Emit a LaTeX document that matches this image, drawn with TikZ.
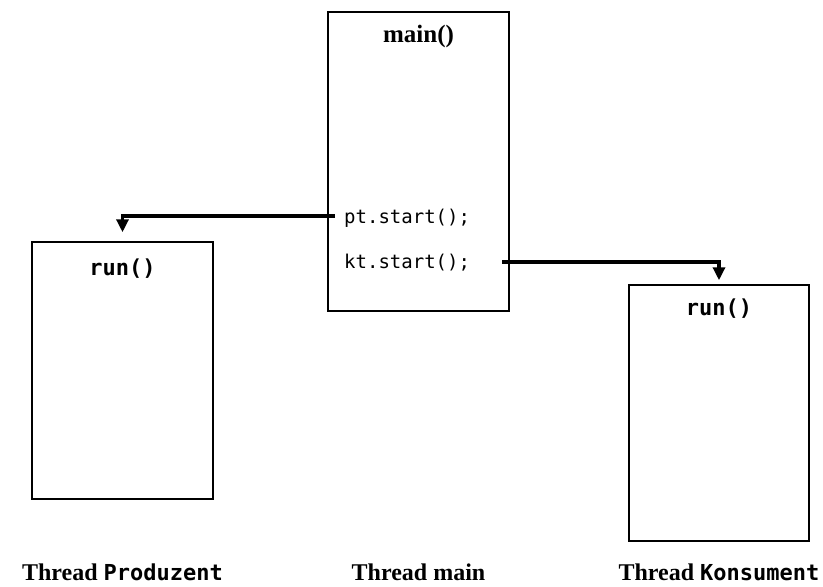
\documentclass[tikz,border=0pt]{standalone}
\usepackage{fontspec}
\setmainfont{Liberation Serif}
\setmonofont{DejaVu Sans Mono}
\usetikzlibrary{arrows.meta}
\newcommand{\monolabel}[1]{{\ttfamily\bfseries\fontsize{22}{22}\selectfont #1}}
\begin{document}
\begin{tikzpicture}[x=1pt,y=-1pt,
  threadbox/.style={draw=black,line width=1.5pt,minimum width=181pt,inner sep=0pt},
  codetxt/.style={font=\ttfamily\fontsize{19}{19}\selectfont,inner sep=0pt,anchor=base west},
  runtxt/.style={font=\ttfamily\bfseries\fontsize{22}{22}\selectfont,inner sep=0pt},
  maintxt/.style={font=\bfseries\fontsize{25}{25}\selectfont,inner sep=0pt},
  labeltxt/.style={font=\bfseries\fontsize{24}{24}\selectfont,inner sep=0pt,anchor=base},
  startarrow/.style={line width=3.3pt,-{Triangle[width=12pt,length=13pt]}}]
\useasboundingbox (0,0) rectangle (823,587);
% boxes
\node[threadbox,minimum height=299pt] (mainbox) at (418.5,161.5) {};
\node[threadbox,minimum height=257pt] (lbox) at (122.5,370.5) {};
\node[threadbox,minimum height=256pt,minimum width=180pt] (rbox) at (719,413) {};
% texts
\node[maintxt] (maint) at (418.5,36) {main()};
\node[codetxt] (pt) at (344,223) {pt.start();};
\node[codetxt] (kt) at (344,268) {kt.start();};
\node[runtxt] (lrun) at (122.5,269) {run()};
\node[runtxt] (rrun) at (719,309) {run()};
% labels
\node[labeltxt] (lprod) at (122.5,580) {Thread \monolabel{Produzent}};
\node[labeltxt] (lmain) at (418.5,580) {Thread main};
\node[labeltxt] (lkons) at (719,580) {Thread \monolabel{Konsument}};
% connectors
\coordinate (ptstart) at (335,216);
\coordinate (ktstart) at (502,262);
\draw[startarrow,shorten >=9pt] (ptstart) -| (lbox.north);
\draw[startarrow,shorten >=4pt] (ktstart) -| (rbox.north);
\end{tikzpicture}
\end{document}
